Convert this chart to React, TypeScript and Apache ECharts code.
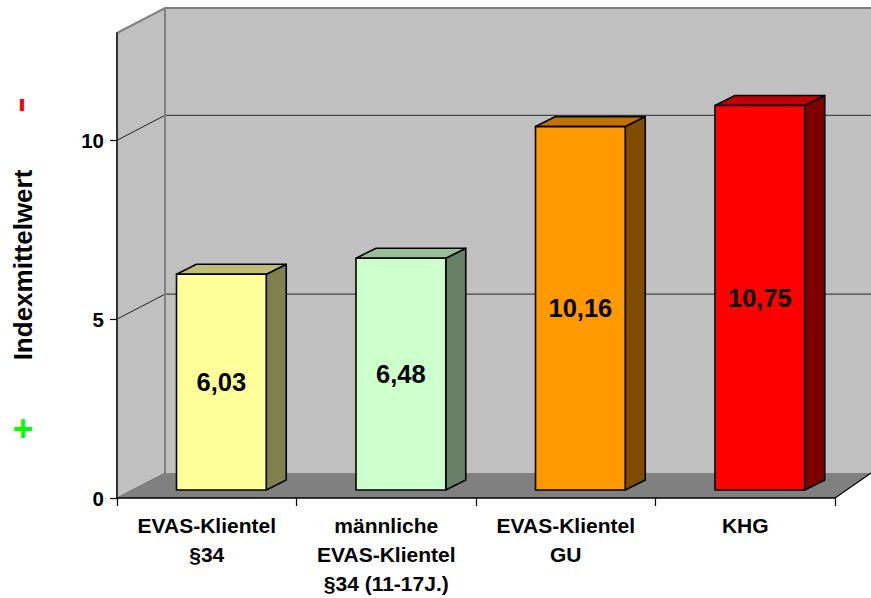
import React, { useEffect, useRef } from "react";
import * as echarts from "echarts";

// ---- data ----
const CATEGORIES = [
  "EVAS-Klientel\n§34",
  "männliche\nEVAS-Klientel\n§34 (11-17J.)",
  "EVAS-Klientel\nGU",
  "KHG",
];
const VALUES = [6.03, 6.48, 10.16, 10.75];
const Y_TICKS = [0, 5, 10];
const Y_GRID = [5, 10];
const Y_MIN = 0;
const Y_MAX = 13;
const Y_TITLE = "Indexmittelwert";
const MINUS_MARK = "-";
const PLUS_MARK = "+";

// ---- styles ----
const FRONT_COLORS = ["#FFFF99", "#CCFFCC", "#FF9900", "#FF0000"];
const SIDE_COLORS = ["#80804D", "#668066", "#804C00", "#800000"];
const TOP_COLORS = ["#BFBF73", "#99BF99", "#BF7300", "#BF0000"];
const FONT = "'Liberation Sans', Arial, Helvetica, sans-serif";
const WALL = "#C0C0C0";
const FLOOR = "#808080";
const EDGE = "#808080";

// 3D layout constants (pixels)
const DEPTH_X_LEFT = 48;
const DEPTH_X_RIGHT = 36;
const DEPTH_Y = 25;
const BAR_SHIFT_X_RATIO = 0.0815;
const BAR_SHIFT_Y = 8;
const BAR_W_RATIO = 0.5;
const BAR_DEPTH_X = 20;
const BAR_DEPTH_Y = 10;

const fmt = (v: number) => v.toFixed(2).replace(".", ",");

export default function App() {
  const ref = useRef<HTMLDivElement>(null);

  useEffect(() => {
    if (!ref.current) return;
    const chart = echarts.init(ref.current, undefined, { renderer: "svg" });

    const wallsRender = (_params: any, api: any) => {
      const band = api.size([1, 0])[0];
      const p0 = api.coord([0, Y_MIN]);
      const pN = api.coord([CATEGORIES.length - 1, Y_MIN]);
      const fl = p0[0] - band / 2;
      const fr = pN[0] + band / 2;
      const y0 = p0[1];
      const yT = api.coord([0, Y_MAX])[1];
      const bl = fl + DEPTH_X_LEFT;
      const br = fr + DEPTH_X_RIGHT;
      const by0 = y0 - DEPTH_Y;
      const byT = yT - DEPTH_Y;
      const children: any[] = [
        {
          type: "polygon",
          shape: { points: [[fl, y0], [fl, yT], [bl, byT], [bl, by0]] },
          style: { fill: WALL, stroke: null },
        },
        {
          type: "polygon",
          shape: { points: [[bl, byT], [br + 40, byT], [br + 40, by0], [bl, by0]] },
          style: { fill: WALL, stroke: null },
        },
        {
          type: "polygon",
          shape: { points: [[fl, y0], [fr, y0], [br, by0], [bl, by0]] },
          style: { fill: FLOOR, stroke: null },
        },
      ];
      Y_GRID.forEach((v) => {
        const y = api.coord([0, v])[1];
        children.push({
          type: "line",
          shape: { x1: fl, y1: y, x2: bl, y2: y - DEPTH_Y },
          style: { stroke: "#222", lineWidth: 1 },
        });
        children.push({
          type: "line",
          shape: { x1: bl, y1: y - DEPTH_Y, x2: br + 40, y2: y - DEPTH_Y },
          style: { stroke: "#444", lineWidth: 1.2 },
        });
      });
      children.push({
        type: "polyline",
        shape: { points: [[fl, yT], [bl, byT], [br + 40, byT]] },
        style: { stroke: EDGE, lineWidth: 2, fill: null },
      });
      children.push({
        type: "line",
        shape: { x1: bl, y1: byT, x2: bl, y2: by0 },
        style: { stroke: EDGE, lineWidth: 2 },
      });
      children.push({
        type: "line",
        shape: { x1: fl, y1: y0, x2: bl, y2: by0 },
        style: { stroke: "#707070", lineWidth: 1 },
      });
      children.push({
        type: "line",
        shape: { x1: fr, y1: y0, x2: br, y2: by0 },
        style: { stroke: "#000", lineWidth: 1.2 },
      });
      return { type: "group", children };
    };

    const barsRender = (params: any, api: any) => {
      const i = params.dataIndex;
      const idx = api.value(0);
      const val = api.value(1);
      const band = api.size([1, 0])[0];
      const base = api.coord([idx, Y_MIN]);
      const top = api.coord([idx, val]);
      const w = band * BAR_W_RATIO;
      const cx = base[0] + band * BAR_SHIFT_X_RATIO;
      const x1 = cx - w / 2;
      const x2 = cx + w / 2;
      const yb = base[1] - BAR_SHIFT_Y;
      const yt = top[1] - BAR_SHIFT_Y;
      const stroke = { stroke: "#000", lineWidth: 1.6, lineJoin: "round" };
      return {
        type: "group",
        children: [
          {
            type: "polygon",
            shape: { points: [[x2, yb], [x2, yt], [x2 + BAR_DEPTH_X, yt - BAR_DEPTH_Y], [x2 + BAR_DEPTH_X, yb - BAR_DEPTH_Y]] },
            style: { fill: SIDE_COLORS[i], ...stroke },
          },
          {
            type: "polygon",
            shape: { points: [[x1, yt], [x2, yt], [x2 + BAR_DEPTH_X, yt - BAR_DEPTH_Y], [x1 + BAR_DEPTH_X, yt - BAR_DEPTH_Y]] },
            style: { fill: TOP_COLORS[i], ...stroke },
          },
          {
            type: "rect",
            shape: { x: x1, y: yt, width: w, height: yb - yt },
            style: { fill: FRONT_COLORS[i], ...stroke },
          },
          {
            type: "text",
            x: cx,
            y: (yt + yb) / 2,
            style: {
              text: fmt(val),
              fill: "#000",
              fontSize: 25.5,
              fontWeight: "bold",
              fontFamily: FONT,
              align: "center",
              verticalAlign: "middle",
            },
          },
        ],
      };
    };

    chart.setOption({
      animation: false,
      backgroundColor: "#FFFFFF",
      grid: { left: 117, right: 36, top: 33, bottom: 96, containLabel: false },
      xAxis: {
        type: "category",
        data: CATEGORIES,
        z: 5,
        axisLine: { show: true, lineStyle: { color: "#000", width: 1.5 } },
        axisTick: { show: true, length: 8, lineStyle: { color: "#000", width: 1.2 } },
        axisLabel: {
          interval: 0,
          margin: 13,
          color: "#000",
          fontSize: 21,
          fontWeight: "bold",
          fontFamily: FONT,
          lineHeight: 29,
        },
        splitLine: { show: false },
      },
      yAxis: {
        type: "value",
        min: Y_MIN,
        max: Y_MAX,
        interval: 5,
        z: 5,
        axisLine: { show: true, lineStyle: { color: "#333", width: 2 } },
        axisTick: { show: true, length: 7, customValues: Y_TICKS, lineStyle: { color: "#000", width: 1.2 } },
        axisLabel: {
          customValues: Y_TICKS,
          margin: 13,
          color: "#000",
          fontSize: 20.5,
          fontWeight: "bold",
          fontFamily: FONT,
        },
        splitLine: { show: false },
      },
      graphic: [
        {
          type: "text",
          x: 23,
          y: 265,
          rotation: Math.PI / 2,
          style: {
            text: Y_TITLE,
            fill: "#000",
            fontSize: 26,
            fontWeight: "bold",
            fontFamily: FONT,
            align: "center",
            verticalAlign: "middle",
          },
        },
        {
          type: "text",
          x: 19,
          y: 105,
          rotation: Math.PI / 2,
          scaleX: 1.4,
          style: {
            text: MINUS_MARK,
            fill: "#FF0000",
            fontSize: 34,
            fontWeight: "bold",
            fontFamily: FONT,
            align: "center",
            verticalAlign: "middle",
          },
        },
        {
          type: "text",
          x: 23,
          y: 428,
          style: {
            text: PLUS_MARK,
            fill: "#00FF00",
            fontSize: 36,
            fontWeight: "bold",
            fontFamily: FONT,
            align: "center",
            verticalAlign: "middle",
          },
        },
      ],
      series: [
        {
          type: "custom",
          name: "walls",
          z: 1,
          silent: true,
          data: [[0, Y_MIN]],
          renderItem: wallsRender,
        },
        {
          type: "custom",
          name: "Indexmittelwert",
          z: 10,
          data: VALUES.map((v, i) => [i, v]),
          renderItem: barsRender,
        },
      ],
    });

    return () => chart.dispose();
  }, []);

  return (
    <div
      ref={ref}
      style={{ position: "absolute", left: 0, top: 0, width: 871, height: 598 }}
    />
  );
}
